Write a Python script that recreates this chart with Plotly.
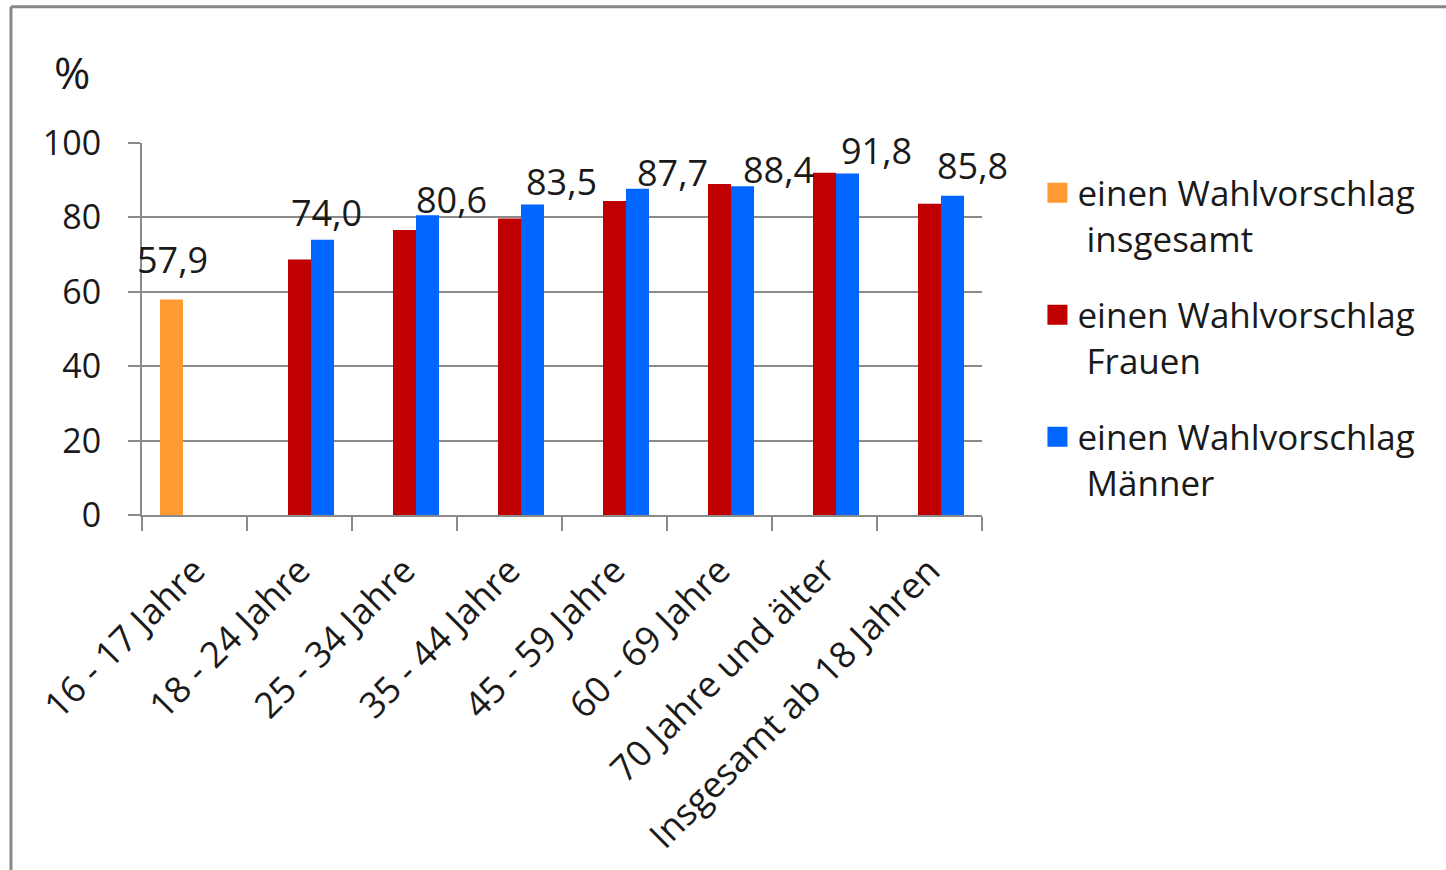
import plotly.graph_objects as go

# Age groups and shares (%) of voters who cast one vote for a list
categories = ["16 - 17 Jahre", "18 - 24 Jahre", "25 - 34 Jahre", "35 - 44 Jahre",
              "45 - 59 Jahre", "60 - 69 Jahre", "70 Jahre und älter", "Insgesamt ab 18 Jahren"]
insgesamt = [57.9, None, None, None, None, None, None, None]
frauen = [None, 68.7, 76.6, 79.7, 84.4, 89.0, 92.0, 83.7]
maenner = [None, 74.0, 80.6, 83.5, 87.7, 88.4, 91.8, 85.8]

series_names = ["einen Wahlvorschlag<br>\u00a0insgesamt",
                "einen Wahlvorschlag<br>\u00a0Frauen",
                "einen Wahlvorschlag<br>\u00a0Männer"]
colors = ["#FF9A33", "#C00000", "#0066FF"]

# label offsets (px) relative to category centre / bar top
label_dx = [-22, 27, 47, 52, 58, 59, 52, 43]
label_dy = [40, 27, 16, 23, 16, 17, 23, 30]

FONT = "Open Sans"
GRID = "#8a8a8a"
TXT = "#1a1a1a"

fig = go.Figure()
for vals, name, col in zip([insgesamt, frauen, maenner], series_names, colors):
    fig.add_trace(go.Bar(x=categories, y=vals, name=name, marker_color=col,
                         marker_line_width=0, showlegend=False))
    # square legend swatch
    fig.add_trace(go.Scatter(x=[None], y=[None], mode="markers", name=name,
                             marker=dict(symbol="square", size=16, color=col,
                                         line=dict(color=col, width=4)),
                             legendgroup=name))

# value labels: the overall bar for the first group, the men's bars elsewhere
labelled = [insgesamt[0]] + maenner[1:]
for i, (cat, v) in enumerate(zip(categories, labelled)):
    fig.add_annotation(x=cat, y=v, text=f"{v:.1f}".replace(".", ","),
                       showarrow=False, xshift=label_dx[i], yshift=label_dy[i],
                       yanchor="middle", xanchor="center",
                       font=dict(family=FONT, size=36, color=TXT))

fig.add_annotation(x=-0.083, y=1.19, xref="paper", yref="paper", text="%",
                   showarrow=False, xanchor="center", yanchor="middle",
                   font=dict(family=FONT, size=44, color=TXT))

# outer frame (top and left edges)
fig.add_shape(type="line", xref="paper", yref="paper", x0=-0.156, x1=1.6,
              y0=1.366, y1=1.366, line=dict(color="#878787", width=3))
fig.add_shape(type="line", xref="paper", yref="paper", x0=-0.156, x1=-0.156,
              y0=1.366, y1=-1.0, line=dict(color="#878787", width=3))

fig.update_layout(
    width=1446, height=870,
    margin=dict(l=142, r=464, t=143, b=353),
    paper_bgcolor="white", plot_bgcolor="white",
    barmode="group", bargap=0.343, bargroupgap=0,
    font=dict(family=FONT, size=34, color=TXT),
    legend=dict(x=1.066, y=0.945, xanchor="left", yanchor="top",
                valign="top", tracegroupgap=28,
                font=dict(family=FONT, size=35, color=TXT),
                bgcolor="rgba(0,0,0,0)"),
)
fig.update_yaxes(range=[0, 100], dtick=20, showgrid=True, gridcolor=GRID, gridwidth=2,
                 showline=True, linecolor=GRID, linewidth=2,
                 ticks="outside", ticklen=12, tickcolor=GRID, tickwidth=2,
                 ticklabelstandoff=20, zeroline=False,
                 tickfont=dict(family=FONT, size=34, color=TXT))
fig.update_xaxes(range=[-0.5, len(categories) - 0.5],
                 showline=True, linecolor=GRID, linewidth=2,
                 ticks="outside", tickson="boundaries", ticklen=14,
                 tickcolor=GRID, tickwidth=2, tickangle=-45,
                 ticklabelstandoff=18,
                 tickfont=dict(family=FONT, size=36, color=TXT))

fig.write_html("out.html")
